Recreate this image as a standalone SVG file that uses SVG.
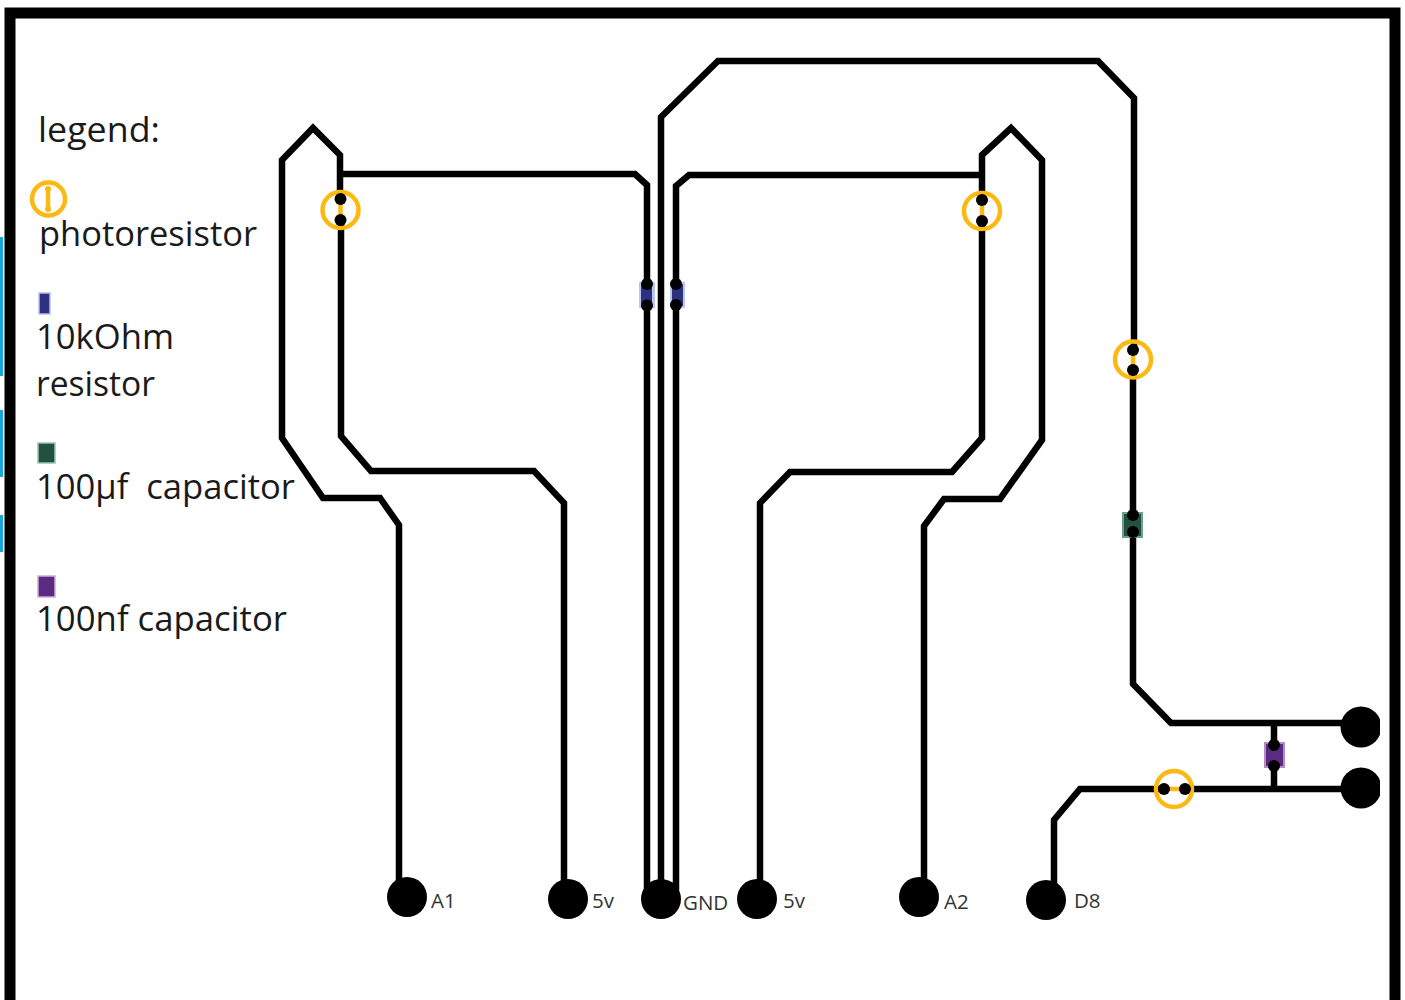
<svg xmlns="http://www.w3.org/2000/svg" width="1405" height="1000" viewBox="0 0 1405 1000">
<style>
.w{fill:none;stroke:#000;stroke-width:6.500;stroke-linejoin:miter}
.l{font-family:"Open Sans","Noto Sans",sans-serif;font-size:35px;fill:#1a1a1a}
.p{font-family:"Open Sans","Noto Sans",sans-serif;font-size:20.500px;fill:#333}
.ring{fill:none;stroke:#fdb913;stroke-width:4.500}
.lead{stroke:#fdb913;stroke-width:4.500}
.dot{fill:#000}
</style>
<defs><clipPath id="c"><rect x="1300" y="690" width="80" height="130"/></clipPath></defs>
<rect width="1405" height="1000" fill="#fff"/>
<g id="frame">
<path d="M0 237H3V376H0ZM0 410H3V477H0ZM0 515H3V552H0Z" fill="#1aa5e0"/>
<path d="M10 1000V13H1395V1000" fill="none" stroke="#000" stroke-width="11"/>
</g>
<g id="connectors">
<path class="w" d="M340 200V155L313 128L282 160V438L323 498H380L399 525V890"/>
<path class="w" d="M341 220V436L371 471H534L564 503V890"/>
<path class="w" d="M341 174H635L647 185V284"/>
<path class="w" d="M647 304V890"/>
<path class="w" d="M661 890V117L718 61H1098L1134 98V350"/>
<path class="w" d="M676 284V186L689 175H982"/>
<path class="w" d="M676 304V890"/>
<path class="w" d="M982 200V155L1011 128L1042 160V440L1000 499H944L924 526V890"/>
<path class="w" d="M982 220V438L952 472H790L760 503V890"/>
<path class="w" d="M1133 370V516"/>
<path class="w" d="M1133 532V684L1171 723H1350"/>
<path class="w" d="M1274 723V746"/>
<path class="w" d="M1274 766V789"/>
<path class="w" d="M1054 890V820L1080 789H1164"/>
<path class="w" d="M1185 789H1350"/>
</g>
<g id="legend">
<text class="l" x="38" y="142" textLength="122" lengthAdjust="spacingAndGlyphs">legend:</text>
<g id="legend-photoresistor"><circle class="ring" cx="48.500" cy="199" r="16.500"/><path class="lead" d="M48 189V209"/><circle cx="48" cy="189" r="3" fill="#fdb913"/><circle cx="48" cy="209" r="3" fill="#fdb913"/></g>
<text class="l" x="39" y="246" textLength="218" lengthAdjust="spacingAndGlyphs">photoresistor</text>
<rect id="legend-resistor" x="39" y="293" width="11" height="21" fill="#2e3180" stroke="#b9c0e4" stroke-width="1.500"/>
<text class="l" x="36" y="349" textLength="138" lengthAdjust="spacingAndGlyphs">10kOhm</text>
<text class="l" x="36" y="396" textLength="119" lengthAdjust="spacingAndGlyphs">resistor</text>
<rect id="legend-100uf" x="38" y="443" width="17" height="20" fill="#23513f" stroke="#9cc4b0" stroke-width="1.500"/>
<text class="l" x="36" y="499" xml:space="preserve" textLength="259" lengthAdjust="spacingAndGlyphs">100µf  capacitor</text>
<rect id="legend-100nf" x="38" y="576" width="17" height="21" fill="#5b2a82" stroke="#d0add8" stroke-width="1.500"/>
<text class="l" x="36" y="631" textLength="251" lengthAdjust="spacingAndGlyphs">100nf capacitor</text>
</g>
<g id="photoresistor-1"><circle class="ring" cx="340.500" cy="210" r="18"/><path class="lead" d="M340.500 199V220"/><circle class="dot" cx="340.500" cy="199" r="6"/><circle class="dot" cx="340.500" cy="220" r="6"/></g>
<g id="photoresistor-2"><circle class="ring" cx="982" cy="211" r="18"/><path class="lead" d="M982 200V221"/><circle class="dot" cx="982" cy="200" r="6"/><circle class="dot" cx="982" cy="221" r="6"/></g>
<g id="photoresistor-3"><circle class="ring" cx="1133" cy="359.500" r="18"/><path class="lead" d="M1133 350V370"/><circle class="dot" cx="1133" cy="350" r="6"/><circle class="dot" cx="1133" cy="370" r="6"/></g>
<g id="photoresistor-4"><circle class="ring" cx="1174" cy="789" r="18"/><path class="lead" d="M1164 789H1185"/><circle class="dot" cx="1164" cy="789" r="6"/><circle class="dot" cx="1185" cy="789" r="6"/></g>
<g id="resistor-1"><rect x="639" y="282" width="16" height="26" fill="#b9c8ea"/><rect x="641" y="284" width="11" height="22" fill="#2e3180"/><circle class="dot" cx="647" cy="284" r="6"/><circle class="dot" cx="647" cy="305.500" r="6"/></g>
<g id="resistor-2"><rect x="670" y="282" width="15" height="26" fill="#b9c8ea"/><rect x="672" y="284" width="11" height="22" fill="#2e3180"/><circle class="dot" cx="676" cy="284" r="6"/><circle class="dot" cx="676" cy="305" r="6"/></g>
<g id="capacitor-100uf"><rect x="1122" y="512" width="21" height="26" fill="#6f9f8a"/><rect x="1124" y="514" width="17" height="22" fill="#23513f"/><circle class="dot" cx="1133" cy="515" r="6"/><circle class="dot" cx="1133" cy="532" r="6"/></g>
<g id="capacitor-100nf"><rect x="1264" y="742" width="21" height="26" fill="#b48cc4"/><rect x="1266" y="744" width="17" height="22" fill="#5b2a82"/><circle class="dot" cx="1274" cy="745" r="6"/><circle class="dot" cx="1274" cy="766" r="6"/></g>
<g id="pad-A1"><circle class="dot" cx="407" cy="897" r="20"/><text class="p" x="431" y="908">A1</text></g>
<g id="pad-5v-1"><circle class="dot" cx="568" cy="899" r="20"/><text class="p" x="592" y="908">5v</text></g>
<g id="pad-GND"><circle class="dot" cx="661" cy="899" r="20"/><text class="p" x="683" y="910">GND</text></g>
<g id="pad-5v-2"><circle class="dot" cx="757" cy="899" r="20"/><text class="p" x="783" y="908">5v</text></g>
<g id="pad-A2"><circle class="dot" cx="919" cy="897" r="20"/><text class="p" x="944" y="909">A2</text></g>
<g id="pad-D8"><circle class="dot" cx="1046" cy="900" r="20"/><text class="p" x="1074" y="908">D8</text></g>
<g id="pad-right-1"><circle class="dot" cx="1361" cy="727" r="20.500" clip-path="url(#c)"/></g>
<g id="pad-right-2"><circle class="dot" cx="1361" cy="788" r="20.500" clip-path="url(#c)"/></g>
</svg>
